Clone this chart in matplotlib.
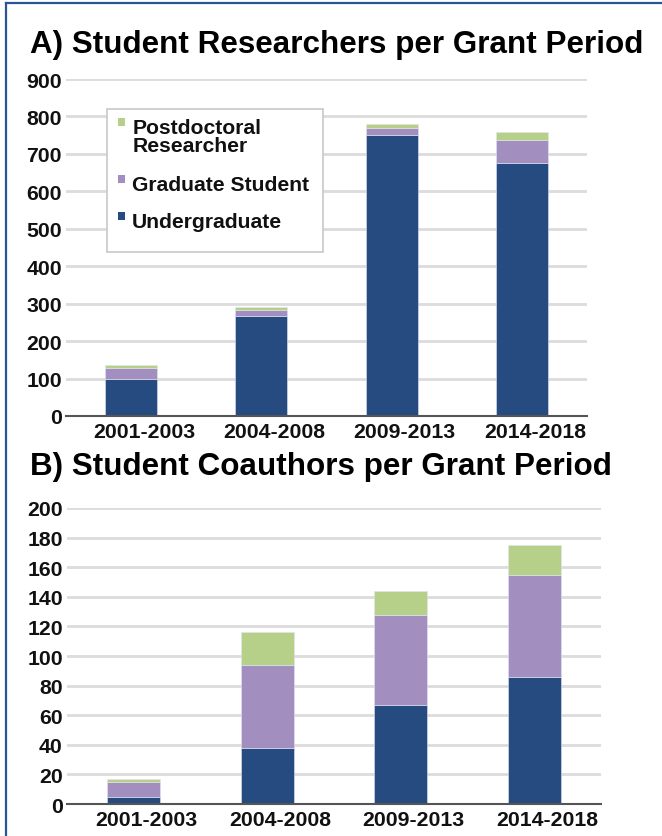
#!/usr/bin/env python3
"""
Stacked bar charts: student researchers and student coauthors per grant period
"""

import numpy as np
import matplotlib
matplotlib.use("Agg")
import matplotlib.pyplot as plt
import matplotlib.transforms as mtransforms
from matplotlib.patches import Rectangle
from matplotlib.lines import Line2D

# Data
periods = ['2001-2003', '2004-2008', '2009-2013', '2014-2018']

# A) researchers
res_undergrad = [100, 268, 750, 677]
res_grad = [28, 16, 18, 61]
res_postdoc = [7, 8, 11, 21]

# B) coauthors
coauth_undergrad = [5, 38, 67, 86]
coauth_grad = [10, 56, 61, 69]
coauth_postdoc = [2, 22, 16, 20]

series_names = ['Undergraduate', 'Graduate Student', 'Postdoctoral\nResearcher']
colors = ['#264b80', '#a38fbf', '#b6cf89']

plt.rcParams['font.family'] = ['Liberation Sans', 'DejaVu Sans']
plt.rcParams['font.weight'] = 'bold'

TICK_FS = 15.3
LEG_FS = 15.2
TITLE_FS = 22.6

fig = plt.figure(figsize=(6.62, 8.37), dpi=100)
fig.patch.set_facecolor('white')


def stacked_panel(ax, layers, ymax, ystep):
    x = np.arange(len(periods))
    bottom = np.zeros(len(periods))
    for vals, col in zip(layers, colors):
        vals = np.array(vals, dtype=float)
        ax.bar(x, vals, width=0.4, bottom=bottom, color=col,
               edgecolor='#dfe6f0', linewidth=0.4, zorder=3)
        bottom += vals
    ax.set_xlim(-0.5, len(periods) - 0.5)
    ax.set_ylim(0, ymax)
    ax.set_yticks(np.arange(0, ymax + 1, ystep))
    ax.set_xticks(x)
    ax.set_xticklabels(periods)
    ax.tick_params(axis='both', length=0, labelsize=TICK_FS, colors='#111111')
    ax.tick_params(axis='y', pad=3)
    ax.tick_params(axis='x', pad=4)
    # labels in the reference sit a little right of the bars
    offset = mtransforms.ScaledTranslation(0.13, 0, fig.dpi_scale_trans)
    for lbl in ax.get_xticklabels():
        lbl.set_transform(lbl.get_transform() + offset)
    ax.grid(axis='y', color='#dcdcdc', linewidth=2, zorder=0)
    for side in ['top', 'right', 'left']:
        ax.spines[side].set_visible(False)
    ax.spines['bottom'].set_color('#555555')
    ax.spines['bottom'].set_linewidth(1.5)
    ax.spines['bottom'].set_zorder(4)


# Panel A
ax1 = fig.add_axes([0.0997, 0.5018, 0.787, 0.4026])
stacked_panel(ax1, [res_undergrad, res_grad, res_postdoc], 900, 100)

# Panel B
ax2 = fig.add_axes([0.1012, 0.0382, 0.8066, 0.3537])
stacked_panel(ax2, [coauth_undergrad, coauth_grad, coauth_postdoc], 200, 20)

# Titles
fig.text(30 / 662, 1 - 45 / 837, 'A) Student Researchers per Grant Period',
         fontsize=TITLE_FS, fontweight='bold', ha='left', va='center')
fig.text(30 / 662, 1 - 467 / 837, 'B) Student Coauthors per Grant Period',
         fontsize=TITLE_FS, fontweight='bold', ha='left', va='center')

# Legend box for panel A (drawn by hand so the marker lines up with the first line)
leg_box = Rectangle((0.078, 0.487), 0.415, 0.425, transform=ax1.transAxes,
                    facecolor='white', edgecolor='#c8c8c8', linewidth=1.2,
                    zorder=5)
ax1.add_patch(leg_box)
legend_rows = [(series_names[2], colors[2], 0.873),
               (series_names[1], colors[1], 0.702),
               (series_names[0], colors[0], 0.592)]
for name, col, ypos in legend_rows:
    ax1.add_patch(Rectangle((0.1, ypos - 0.011), 0.014, 0.023,
                            transform=ax1.transAxes, facecolor=col,
                            edgecolor='none', zorder=6))
    ax1.text(0.127, ypos + 0.012, name, transform=ax1.transAxes,
             fontsize=LEG_FS, fontweight='bold', ha='left', va='top',
             linespacing=0.95, color='#111111', zorder=6)

# Blue frame edges at top and left
fig.add_artist(Line2D([6 / 662, 1], [1 - 4 / 837, 1 - 4 / 837],
                      transform=fig.transFigure, color='#2b5496', linewidth=1.6))
fig.add_artist(Line2D([6 / 662, 6 / 662], [0, 1 - 4 / 837],
                      transform=fig.transFigure, color='#2b5496', linewidth=1.6))

fig.savefig('out.png', dpi=100)
plt.close(fig)
